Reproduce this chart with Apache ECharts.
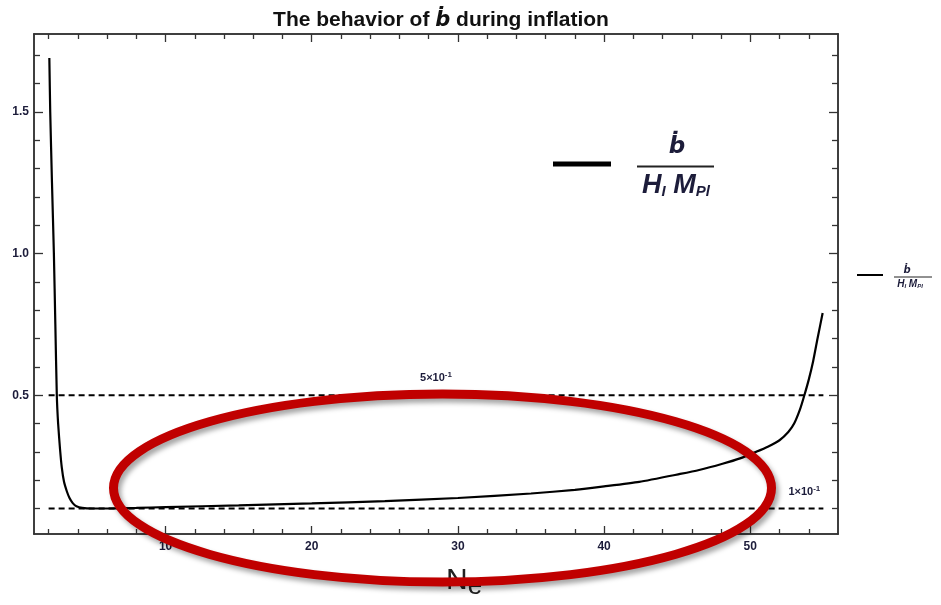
<!DOCTYPE html>
<html><head><meta charset="utf-8">
<script src="https://cdn.jsdelivr.net/npm/echarts@6/dist/echarts.min.js"></script>
<style>html,body{margin:0;padding:0;background:#fff}#c{width:941px;height:605px}</style>
</head><body><div id="c"></div>
<script>
// ---- data ----
const curveN = [2.05, 2.11, 2.23, 2.36, 2.46, 2.56, 2.65, 2.78, 2.9, 3.05, 3.25, 3.43, 3.65, 3.9, 4.3, 5, 6, 8, 10, 15, 20, 25, 30, 35, 38, 40, 42.4, 45.2, 46.5, 48.1, 49.3, 50.4, 51.2, 52.0, 52.6, 53.0, 53.4, 53.7, 54.0, 54.3, 54.6, 54.95];
const curveB = [1.69, 1.5, 1.25, 1.0, 0.75, 0.5, 0.4, 0.31, 0.245, 0.195, 0.16, 0.137, 0.119, 0.108, 0.102, 0.1, 0.1, 0.102, 0.105, 0.111, 0.118, 0.126, 0.137, 0.153, 0.166, 0.178, 0.194, 0.222, 0.236, 0.258, 0.277, 0.3, 0.318, 0.341, 0.37, 0.4, 0.45, 0.5, 0.555, 0.62, 0.7, 0.79];
const refLevels = [0.5, 0.1];
const refRange = [2, 55];
const refLabelN = [28.5, 53.7];
const refLabelMant = ['5', '1'];
const xMajorTicks = [10, 20, 30, 40, 50];
const xMinorTicks = [2, 4, 6, 8, 12, 14, 16, 18, 22, 24, 26, 28, 32, 34, 36, 38, 42, 44, 46, 48, 52, 54];
const yMajorTicks = [0.5, 1.0, 1.5];
const yMinorTicks = [0.1, 0.2, 0.3, 0.4, 0.6, 0.7, 0.8, 0.9, 1.1, 1.2, 1.3, 1.4, 1.6, 1.7];
const xRange = [1, 56];
const yRange = [0.01, 1.775];

const FONT = 'Liberation Sans, Arial, DejaVu Sans, sans-serif';
const TXT = '#1c1c3a';
const FRAME = '#333333';

function xAxisDef(pos, ticks, len, labels) {
  return {
    type: 'value', position: pos, min: xRange[0], max: xRange[1],
    splitLine: { show: false },
    axisLine: { show: true, onZero: false, lineStyle: { color: FRAME, width: 1.5 } },
    axisTick: { show: true, inside: true, length: len, customValues: ticks, lineStyle: { color: FRAME, width: 1.3 } },
    axisLabel: labels ? { show: true, customValues: ticks, margin: 7, fontFamily: FONT, fontWeight: 'bold', fontSize: 12, color: TXT } : { show: false }
  };
}
function yAxisDef(pos, ticks, len, labels) {
  return {
    type: 'value', position: pos, min: yRange[0], max: yRange[1],
    splitLine: { show: false },
    axisLine: { show: true, onZero: false, lineStyle: { color: FRAME, width: 1.5 } },
    axisTick: { show: true, inside: true, length: len, customValues: ticks, lineStyle: { color: FRAME, width: 1.3 } },
    axisLabel: labels ? { show: true, customValues: ticks, margin: 5, fontFamily: FONT, fontWeight: 'bold', fontSize: 12, color: TXT, formatter: v => v.toFixed(1) } : { show: false }
  };
}

const curveData = curveN.map((n, i) => [n, curveB[i]]);

const refSeries = refLevels.map((lv, k) => ({
  type: 'line', xAxisIndex: 0, yAxisIndex: 0,
  data: [
    { value: [refRange[0], lv], symbolSize: 0 },
    { value: [refLabelN[k], lv], symbolSize: 0, label: {
        show: true, position: 'top', distance: 10,
        formatter: '{m|' + refLabelMant[k] + '×10}{s|-1}',
        rich: {
          m: { fontFamily: FONT, fontWeight: 'bold', fontSize: 11, color: TXT },
          s: { fontFamily: FONT, fontWeight: 'bold', fontSize: 8, color: TXT, verticalAlign: 'top', padding: [0, 0, 6, 0] }
        } } },
    { value: [refRange[1], lv], symbolSize: 0 }
  ],
  symbol: 'circle', showSymbol: true, silent: true,
  lineStyle: { color: '#000', width: 2, type: [6, 4] },
  z: 3
}));

const chart = echarts.init(document.getElementById('c'), null, { renderer: 'canvas' });
chart.setOption({
  animation: false,
  backgroundColor: '#fff',
  title: {
    text: 'The behavior of {b|ḃ} during inflation',
    left: 436, top: 5, textAlign: 'center',
    textStyle: {
      fontFamily: FONT, fontWeight: 'bold', fontSize: 21, color: '#111',
      rich: { b: { fontFamily: 'DejaVu Sans, Liberation Sans', fontStyle: 'italic', fontWeight: 'bold', fontSize: 21, color: '#111' } }
    }
  },
  grid: { left: 34, right: 103, top: 34, bottom: 71, containLabel: false },
  xAxis: [
    xAxisDef('bottom', xMajorTicks, 8, true),
    xAxisDef('bottom', xMinorTicks, 5, false),
    xAxisDef('top', xMajorTicks, 8, false),
    xAxisDef('top', xMinorTicks, 5, false)
  ],
  yAxis: [
    yAxisDef('left', yMajorTicks, 9, true),
    yAxisDef('left', yMinorTicks, 6, false),
    yAxisDef('right', yMajorTicks, 9, false),
    yAxisDef('right', yMinorTicks, 6, false)
  ],
  series: [
    {
      type: 'line', name: 'bdot', xAxisIndex: 0, yAxisIndex: 0,
      data: curveData, showSymbol: false, smooth: 0.2,
      lineStyle: { color: '#000', width: 2.2 }, z: 4
    }
  ].concat(refSeries),
  graphic: [
    // x-axis name N_e
    { type: 'text', left: 446, top: 566, z: 50,
      style: { text: '{n|N}{e|e}', rich: {
        n: { fontFamily: FONT, fontSize: 30, fill: '#222' },
        e: { fontFamily: FONT, fontSize: 26, fill: '#222', verticalAlign: 'bottom', padding: [12, 0, 0, 0] } } } },
    // inner legend
    { type: 'line', z: 50, shape: { x1: 553, y1: 164, x2: 611, y2: 164 }, style: { stroke: '#000', lineWidth: 5 } },
    { type: 'line', z: 50, shape: { x1: 637, y1: 166.5, x2: 714, y2: 166.5 }, style: { stroke: '#222', lineWidth: 2 } },
    { type: 'text', z: 50, x: 677, y: 159, style: { text: 'ḃ', textAlign: 'center', textVerticalAlign: 'bottom', fontFamily: 'DejaVu Sans', fontStyle: 'italic', fontWeight: 'bold', fontSize: 23, fill: TXT } },
    { type: 'text', z: 50, x: 676, y: 172, style: { text: '{i|H}{s|I}{i| M}{s|Pl}', textAlign: 'center', textVerticalAlign: 'top',
      rich: { i: { fontFamily: FONT, fontStyle: 'italic', fontWeight: 'bold', fontSize: 27, fill: TXT },
              s: { fontFamily: FONT, fontStyle: 'italic', fontWeight: 'bold', fontSize: 15, fill: TXT, verticalAlign: 'bottom' } } } },
    // outer legend
    { type: 'line', z: 50, shape: { x1: 857, y1: 275, x2: 883, y2: 275 }, style: { stroke: '#000', lineWidth: 2 } },
    { type: 'line', z: 50, shape: { x1: 894, y1: 277, x2: 932, y2: 277 }, style: { stroke: '#222', lineWidth: 1 } },
    { type: 'text', z: 50, x: 907, y: 275, style: { text: 'ḃ', textAlign: 'center', textVerticalAlign: 'bottom', fontFamily: 'DejaVu Sans', fontStyle: 'italic', fontWeight: 'bold', fontSize: 10, fill: TXT } },
    { type: 'text', z: 50, x: 910, y: 279, style: { text: '{i|H}{s|I}{i| M}{s|Pl}', textAlign: 'center', textVerticalAlign: 'top',
      rich: { i: { fontFamily: FONT, fontStyle: 'italic', fontWeight: 'bold', fontSize: 10, fill: TXT },
              s: { fontFamily: FONT, fontStyle: 'italic', fontWeight: 'bold', fontSize: 6, fill: TXT, verticalAlign: 'bottom' } } } },
    // red annotation ellipse
    { type: 'ellipse', z: 100, shape: { cx: 442.5, cy: 488, rx: 329, ry: 94 },
      style: { fill: 'none', stroke: '#c00000', lineWidth: 9, shadowBlur: 5, shadowOffsetX: 3, shadowOffsetY: 4, shadowColor: 'rgba(0,0,0,0.35)' } }
  ]
});
</script></body></html>
